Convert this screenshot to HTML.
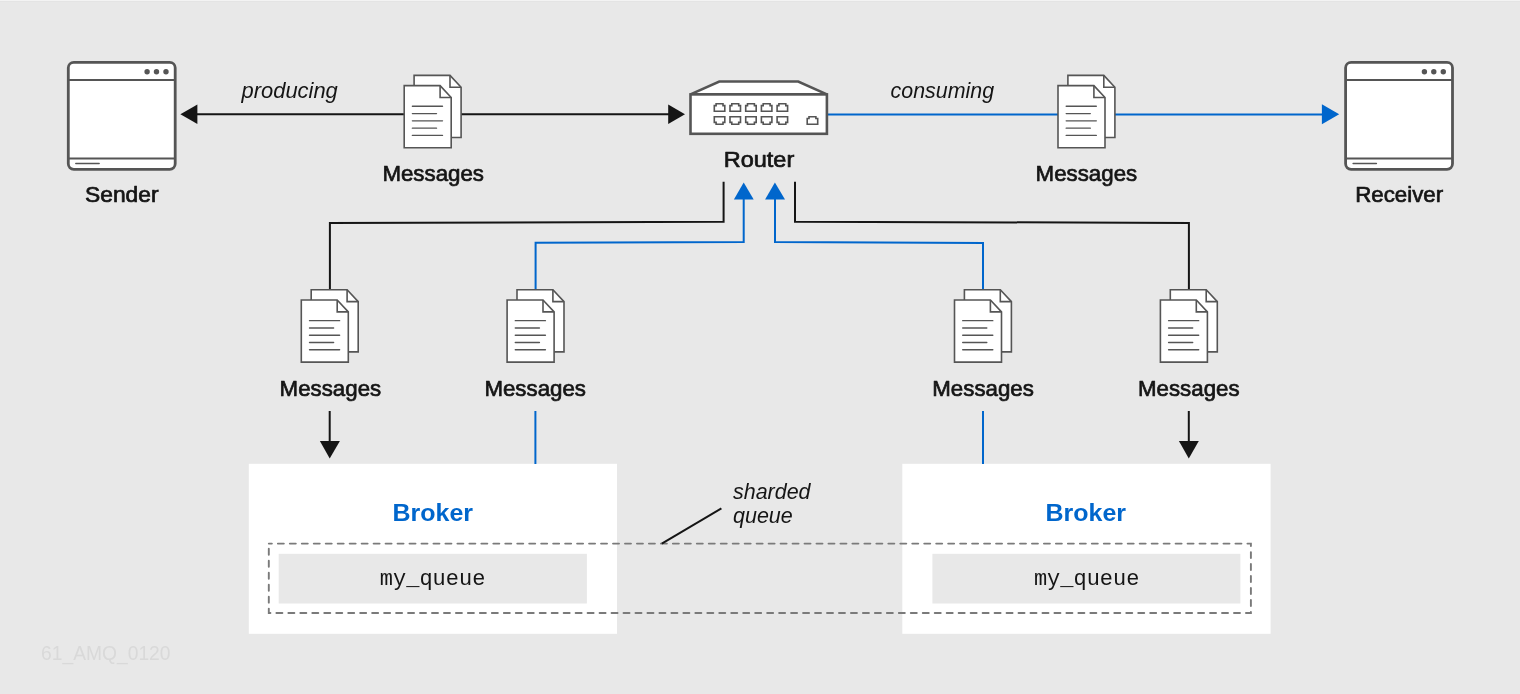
<!DOCTYPE html>
<html><head><meta charset="utf-8"><style>
html,body{margin:0;padding:0;background:#e8e8e8;width:1520px;height:694px;overflow:hidden}
svg{display:block;font-family:"Liberation Sans",sans-serif;will-change:transform}
</style></head><body>
<svg width="1520" height="694" viewBox="0 0 1520 694">
<rect x="0" y="0" width="1520" height="694" fill="#e8e8e8"/>
<rect x="0" y="0" width="1520" height="1" fill="#f3f3f3"/>
<rect x="0" y="1" width="1520" height="1" fill="#e4e4e4"/>
<rect x="248.8" y="463.8" width="368.2" height="170" fill="#fff"/>
<rect x="902.3" y="463.8" width="368.3" height="170" fill="#fff"/>
<rect x="278.7" y="553.8" width="308.2" height="49.7" fill="#e8e8e8"/>
<rect x="932.4" y="553.8" width="308.0" height="49.7" fill="#e8e8e8"/>
<rect x="268.8" y="543.6" width="982.1" height="69.4" fill="none" stroke="#7a7a7a" stroke-width="1.9" stroke-dasharray="6 5.97" stroke-dashoffset="2.92" stroke-linecap="round"/>
<line x1="661.8" y1="543.7" x2="721.4" y2="508.4" stroke="#151515" stroke-width="2"/>
<line x1="196" y1="114.3" x2="405" y2="114.3" stroke="#151515" stroke-width="2"/>
<line x1="460" y1="114.3" x2="670" y2="114.3" stroke="#151515" stroke-width="2"/>
<polygon points="180.4,114.3 197.4,104.6 197.4,124.0" fill="#151515"/>
<polygon points="685.0,114.3 668.2,104.5 668.2,124.0" fill="#151515"/>
<line x1="828" y1="114.4" x2="1323" y2="114.4" stroke="#0066cc" stroke-width="2"/>
<polygon points="1339.2,114.2 1321.9,104.2 1321.9,124.3" fill="#0066cc"/>
<polyline points="723.6,181.8 723.6,221.7 329.9,223.0 329.9,290" fill="none" stroke="#151515" stroke-width="2"/>
<polyline points="795.0,181.8 795.0,221.7 1188.9,222.9 1188.9,290" fill="none" stroke="#151515" stroke-width="2"/>
<polyline points="743.7,198 743.7,241.9 535.6,242.8 535.6,290" fill="none" stroke="#0066cc" stroke-width="2"/>
<polyline points="775.0,198 775.0,241.9 983.0,242.9 983.0,290" fill="none" stroke="#0066cc" stroke-width="2"/>
<polygon points="743.7,182.5 733.9,199.5 753.7,199.5" fill="#0066cc"/>
<polygon points="774.9,182.5 765.1,199.5 785.0,199.5" fill="#0066cc"/>
<line x1="329.7" y1="411" x2="329.7" y2="443" stroke="#151515" stroke-width="2"/>
<polygon points="329.7,458.4 319.9,441 339.9,441" fill="#151515"/>
<line x1="1188.8" y1="411" x2="1188.8" y2="443" stroke="#151515" stroke-width="2"/>
<polygon points="1188.8,458.4 1178.9,441 1198.8,441" fill="#151515"/>
<line x1="535.4" y1="411" x2="535.4" y2="464" stroke="#0066cc" stroke-width="2"/>
<line x1="983.0" y1="411" x2="983.0" y2="464" stroke="#0066cc" stroke-width="2"/>
<rect x="68.3" y="62.3" width="106.9" height="107" rx="5.5" fill="#fff" stroke="#555555" stroke-width="2.8"/>
<line x1="68.3" y1="80.0" x2="175.2" y2="80.0" stroke="#555555" stroke-width="2"/>
<line x1="68.3" y1="158.4" x2="175.2" y2="158.4" stroke="#555555" stroke-width="2"/>
<circle cx="147.1" cy="71.7" r="2.7" fill="#555555"/>
<circle cx="156.5" cy="71.7" r="2.7" fill="#555555"/>
<circle cx="166.0" cy="71.7" r="2.7" fill="#555555"/>
<line x1="75.8" y1="163.6" x2="99.1" y2="163.6" stroke="#555555" stroke-width="1.5" stroke-linecap="round"/>
<rect x="1345.6" y="62.3" width="106.9" height="107" rx="5.5" fill="#fff" stroke="#555555" stroke-width="2.8"/>
<line x1="1345.6" y1="80.0" x2="1452.5" y2="80.0" stroke="#555555" stroke-width="2"/>
<line x1="1345.6" y1="158.4" x2="1452.5" y2="158.4" stroke="#555555" stroke-width="2"/>
<circle cx="1424.4" cy="71.7" r="2.7" fill="#555555"/>
<circle cx="1433.8" cy="71.7" r="2.7" fill="#555555"/>
<circle cx="1443.3" cy="71.7" r="2.7" fill="#555555"/>
<line x1="1353.1" y1="163.6" x2="1376.4" y2="163.6" stroke="#555555" stroke-width="1.5" stroke-linecap="round"/>
<path d="M690.5,94.4 L719.3,81.5 H798.2 L826.9,94.4 Z" fill="#fff" stroke="#555555" stroke-width="2.6" stroke-linejoin="miter"/>
<rect x="690.5" y="94.4" width="136.4" height="39.4" fill="#fff" stroke="#555555" stroke-width="2.6"/>
<path d="M714.30,111.30 V105.60 H716.10 V103.80 H723.00 V105.60 H724.80 V111.30 Z" fill="none" stroke="#555555" stroke-width="1.6"/>
<path d="M714.30,116.70 H724.80 V122.40 H723.00 V124.20 H716.10 V122.40 H714.30 Z" fill="none" stroke="#555555" stroke-width="1.6"/>
<path d="M730.00,111.30 V105.60 H731.80 V103.80 H738.70 V105.60 H740.50 V111.30 Z" fill="none" stroke="#555555" stroke-width="1.6"/>
<path d="M730.00,116.70 H740.50 V122.40 H738.70 V124.20 H731.80 V122.40 H730.00 Z" fill="none" stroke="#555555" stroke-width="1.6"/>
<path d="M745.70,111.30 V105.60 H747.50 V103.80 H754.40 V105.60 H756.20 V111.30 Z" fill="none" stroke="#555555" stroke-width="1.6"/>
<path d="M745.70,116.70 H756.20 V122.40 H754.40 V124.20 H747.50 V122.40 H745.70 Z" fill="none" stroke="#555555" stroke-width="1.6"/>
<path d="M761.40,111.30 V105.60 H763.20 V103.80 H770.10 V105.60 H771.90 V111.30 Z" fill="none" stroke="#555555" stroke-width="1.6"/>
<path d="M761.40,116.70 H771.90 V122.40 H770.10 V124.20 H763.20 V122.40 H761.40 Z" fill="none" stroke="#555555" stroke-width="1.6"/>
<path d="M777.10,111.30 V105.60 H778.90 V103.80 H785.80 V105.60 H787.60 V111.30 Z" fill="none" stroke="#555555" stroke-width="1.6"/>
<path d="M777.10,116.70 H787.60 V122.40 H785.80 V124.20 H778.90 V122.40 H777.10 Z" fill="none" stroke="#555555" stroke-width="1.6"/>
<path d="M807.20,124.20 V118.50 H809.00 V116.70 H815.90 V118.50 H817.70 V124.20 Z" fill="none" stroke="#555555" stroke-width="1.6"/>
<path d="M414.10,75.40 H450.00 L461.10,87.25 V137.50 H414.10 Z" fill="#fff" stroke="#555555" stroke-width="1.6" stroke-linejoin="miter"/><path d="M450.00,75.40 V87.25 H461.10" fill="none" stroke="#555555" stroke-width="1.6"/>
<path d="M404.20,85.65 H440.10 L451.20,97.50 V147.75 H404.20 Z" fill="#fff" stroke="#555555" stroke-width="1.6" stroke-linejoin="miter"/><path d="M440.10,85.65 V97.50 H451.20" fill="none" stroke="#555555" stroke-width="1.6"/>
<line x1="412.40" y1="106.30" x2="442.50" y2="106.30" stroke="#555555" stroke-width="1.4" stroke-linecap="round"/>
<line x1="412.40" y1="113.58" x2="436.50" y2="113.58" stroke="#555555" stroke-width="1.4" stroke-linecap="round"/>
<line x1="412.40" y1="120.86" x2="442.50" y2="120.86" stroke="#555555" stroke-width="1.4" stroke-linecap="round"/>
<line x1="412.40" y1="128.14" x2="436.50" y2="128.14" stroke="#555555" stroke-width="1.4" stroke-linecap="round"/>
<line x1="412.40" y1="135.42" x2="442.50" y2="135.42" stroke="#555555" stroke-width="1.4" stroke-linecap="round"/>
<path d="M1067.90,75.40 H1103.80 L1114.90,87.25 V137.50 H1067.90 Z" fill="#fff" stroke="#555555" stroke-width="1.6" stroke-linejoin="miter"/><path d="M1103.80,75.40 V87.25 H1114.90" fill="none" stroke="#555555" stroke-width="1.6"/>
<path d="M1058.00,85.65 H1093.90 L1105.00,97.50 V147.75 H1058.00 Z" fill="#fff" stroke="#555555" stroke-width="1.6" stroke-linejoin="miter"/><path d="M1093.90,85.65 V97.50 H1105.00" fill="none" stroke="#555555" stroke-width="1.6"/>
<line x1="1066.20" y1="106.30" x2="1096.30" y2="106.30" stroke="#555555" stroke-width="1.4" stroke-linecap="round"/>
<line x1="1066.20" y1="113.58" x2="1090.30" y2="113.58" stroke="#555555" stroke-width="1.4" stroke-linecap="round"/>
<line x1="1066.20" y1="120.86" x2="1096.30" y2="120.86" stroke="#555555" stroke-width="1.4" stroke-linecap="round"/>
<line x1="1066.20" y1="128.14" x2="1090.30" y2="128.14" stroke="#555555" stroke-width="1.4" stroke-linecap="round"/>
<line x1="1066.20" y1="135.42" x2="1096.30" y2="135.42" stroke="#555555" stroke-width="1.4" stroke-linecap="round"/>
<path d="M311.20,289.75 H347.10 L358.20,301.60 V351.85 H311.20 Z" fill="#fff" stroke="#555555" stroke-width="1.6" stroke-linejoin="miter"/><path d="M347.10,289.75 V301.60 H358.20" fill="none" stroke="#555555" stroke-width="1.6"/>
<path d="M301.30,300.00 H337.20 L348.30,311.85 V362.10 H301.30 Z" fill="#fff" stroke="#555555" stroke-width="1.6" stroke-linejoin="miter"/><path d="M337.20,300.00 V311.85 H348.30" fill="none" stroke="#555555" stroke-width="1.6"/>
<line x1="309.50" y1="320.65" x2="339.60" y2="320.65" stroke="#555555" stroke-width="1.4" stroke-linecap="round"/>
<line x1="309.50" y1="327.93" x2="333.60" y2="327.93" stroke="#555555" stroke-width="1.4" stroke-linecap="round"/>
<line x1="309.50" y1="335.21" x2="339.60" y2="335.21" stroke="#555555" stroke-width="1.4" stroke-linecap="round"/>
<line x1="309.50" y1="342.49" x2="333.60" y2="342.49" stroke="#555555" stroke-width="1.4" stroke-linecap="round"/>
<line x1="309.50" y1="349.77" x2="339.60" y2="349.77" stroke="#555555" stroke-width="1.4" stroke-linecap="round"/>
<path d="M517.00,289.75 H552.90 L564.00,301.60 V351.85 H517.00 Z" fill="#fff" stroke="#555555" stroke-width="1.6" stroke-linejoin="miter"/><path d="M552.90,289.75 V301.60 H564.00" fill="none" stroke="#555555" stroke-width="1.6"/>
<path d="M507.10,300.00 H543.00 L554.10,311.85 V362.10 H507.10 Z" fill="#fff" stroke="#555555" stroke-width="1.6" stroke-linejoin="miter"/><path d="M543.00,300.00 V311.85 H554.10" fill="none" stroke="#555555" stroke-width="1.6"/>
<line x1="515.30" y1="320.65" x2="545.40" y2="320.65" stroke="#555555" stroke-width="1.4" stroke-linecap="round"/>
<line x1="515.30" y1="327.93" x2="539.40" y2="327.93" stroke="#555555" stroke-width="1.4" stroke-linecap="round"/>
<line x1="515.30" y1="335.21" x2="545.40" y2="335.21" stroke="#555555" stroke-width="1.4" stroke-linecap="round"/>
<line x1="515.30" y1="342.49" x2="539.40" y2="342.49" stroke="#555555" stroke-width="1.4" stroke-linecap="round"/>
<line x1="515.30" y1="349.77" x2="545.40" y2="349.77" stroke="#555555" stroke-width="1.4" stroke-linecap="round"/>
<path d="M964.40,289.75 H1000.30 L1011.40,301.60 V351.85 H964.40 Z" fill="#fff" stroke="#555555" stroke-width="1.6" stroke-linejoin="miter"/><path d="M1000.30,289.75 V301.60 H1011.40" fill="none" stroke="#555555" stroke-width="1.6"/>
<path d="M954.50,300.00 H990.40 L1001.50,311.85 V362.10 H954.50 Z" fill="#fff" stroke="#555555" stroke-width="1.6" stroke-linejoin="miter"/><path d="M990.40,300.00 V311.85 H1001.50" fill="none" stroke="#555555" stroke-width="1.6"/>
<line x1="962.70" y1="320.65" x2="992.80" y2="320.65" stroke="#555555" stroke-width="1.4" stroke-linecap="round"/>
<line x1="962.70" y1="327.93" x2="986.80" y2="327.93" stroke="#555555" stroke-width="1.4" stroke-linecap="round"/>
<line x1="962.70" y1="335.21" x2="992.80" y2="335.21" stroke="#555555" stroke-width="1.4" stroke-linecap="round"/>
<line x1="962.70" y1="342.49" x2="986.80" y2="342.49" stroke="#555555" stroke-width="1.4" stroke-linecap="round"/>
<line x1="962.70" y1="349.77" x2="992.80" y2="349.77" stroke="#555555" stroke-width="1.4" stroke-linecap="round"/>
<path d="M1170.30,289.75 H1206.20 L1217.30,301.60 V351.85 H1170.30 Z" fill="#fff" stroke="#555555" stroke-width="1.6" stroke-linejoin="miter"/><path d="M1206.20,289.75 V301.60 H1217.30" fill="none" stroke="#555555" stroke-width="1.6"/>
<path d="M1160.40,300.00 H1196.30 L1207.40,311.85 V362.10 H1160.40 Z" fill="#fff" stroke="#555555" stroke-width="1.6" stroke-linejoin="miter"/><path d="M1196.30,300.00 V311.85 H1207.40" fill="none" stroke="#555555" stroke-width="1.6"/>
<line x1="1168.60" y1="320.65" x2="1198.70" y2="320.65" stroke="#555555" stroke-width="1.4" stroke-linecap="round"/>
<line x1="1168.60" y1="327.93" x2="1192.70" y2="327.93" stroke="#555555" stroke-width="1.4" stroke-linecap="round"/>
<line x1="1168.60" y1="335.21" x2="1198.70" y2="335.21" stroke="#555555" stroke-width="1.4" stroke-linecap="round"/>
<line x1="1168.60" y1="342.49" x2="1192.70" y2="342.49" stroke="#555555" stroke-width="1.4" stroke-linecap="round"/>
<line x1="1168.60" y1="349.77" x2="1198.70" y2="349.77" stroke="#555555" stroke-width="1.4" stroke-linecap="round"/>
<text x="121.8" y="202.1" font-family="Liberation Sans" font-size="22" font-weight="normal" font-style="normal" fill="#151515" text-anchor="middle" textLength="73.5" lengthAdjust="spacingAndGlyphs" stroke="#151515" stroke-width="0.7" stroke-linejoin="round">Sender</text>
<text x="1399.2" y="202.0" font-family="Liberation Sans" font-size="22" font-weight="normal" font-style="normal" fill="#151515" text-anchor="middle" textLength="88" lengthAdjust="spacingAndGlyphs" stroke="#151515" stroke-width="0.7" stroke-linejoin="round">Receiver</text>
<text x="759.0" y="167.4" font-family="Liberation Sans" font-size="22" font-weight="normal" font-style="normal" fill="#151515" text-anchor="middle" textLength="70.5" lengthAdjust="spacingAndGlyphs" stroke="#151515" stroke-width="0.7" stroke-linejoin="round">Router</text>
<text x="433.2" y="181.2" font-family="Liberation Sans" font-size="22" font-weight="normal" font-style="normal" fill="#151515" text-anchor="middle" textLength="101.6" lengthAdjust="spacingAndGlyphs" stroke="#151515" stroke-width="0.7" stroke-linejoin="round">Messages</text>
<text x="1086.4" y="181.2" font-family="Liberation Sans" font-size="22" font-weight="normal" font-style="normal" fill="#151515" text-anchor="middle" textLength="101.6" lengthAdjust="spacingAndGlyphs" stroke="#151515" stroke-width="0.7" stroke-linejoin="round">Messages</text>
<text x="330.4" y="395.5" font-family="Liberation Sans" font-size="22" font-weight="normal" font-style="normal" fill="#151515" text-anchor="middle" textLength="101.6" lengthAdjust="spacingAndGlyphs" stroke="#151515" stroke-width="0.7" stroke-linejoin="round">Messages</text>
<text x="535.2" y="395.5" font-family="Liberation Sans" font-size="22" font-weight="normal" font-style="normal" fill="#151515" text-anchor="middle" textLength="101.6" lengthAdjust="spacingAndGlyphs" stroke="#151515" stroke-width="0.7" stroke-linejoin="round">Messages</text>
<text x="983.1" y="395.5" font-family="Liberation Sans" font-size="22" font-weight="normal" font-style="normal" fill="#151515" text-anchor="middle" textLength="101.6" lengthAdjust="spacingAndGlyphs" stroke="#151515" stroke-width="0.7" stroke-linejoin="round">Messages</text>
<text x="1188.8" y="395.5" font-family="Liberation Sans" font-size="22" font-weight="normal" font-style="normal" fill="#151515" text-anchor="middle" textLength="101.6" lengthAdjust="spacingAndGlyphs" stroke="#151515" stroke-width="0.7" stroke-linejoin="round">Messages</text>
<text x="241.5" y="97.9" font-family="Liberation Sans" font-size="22.5" font-weight="normal" font-style="italic" fill="#151515" text-anchor="start" textLength="96.3" lengthAdjust="spacingAndGlyphs">producing</text>
<text x="890.6" y="97.8" font-family="Liberation Sans" font-size="22.5" font-weight="normal" font-style="italic" fill="#151515" text-anchor="start" textLength="103.5" lengthAdjust="spacingAndGlyphs">consuming</text>
<text x="733.0" y="498.7" font-family="Liberation Sans" font-size="22.5" font-weight="normal" font-style="italic" fill="#151515" text-anchor="start" textLength="77.5" lengthAdjust="spacingAndGlyphs">sharded</text>
<text x="733.0" y="523.0" font-family="Liberation Sans" font-size="22.5" font-weight="normal" font-style="italic" fill="#151515" text-anchor="start" textLength="59.8" lengthAdjust="spacingAndGlyphs">queue</text>
<text x="432.8" y="521.4" font-family="Liberation Sans" font-size="24.5" font-weight="bold" font-style="normal" fill="#0066cc" text-anchor="middle" textLength="80.5" lengthAdjust="spacingAndGlyphs">Broker</text>
<text x="1085.8" y="521.4" font-family="Liberation Sans" font-size="24.5" font-weight="bold" font-style="normal" fill="#0066cc" text-anchor="middle" textLength="80.5" lengthAdjust="spacingAndGlyphs">Broker</text>
<text x="432.6" y="585.2" font-family="Liberation Mono" font-size="22" font-weight="normal" font-style="normal" fill="#151515" text-anchor="middle" textLength="105.5" lengthAdjust="spacingAndGlyphs">my_queue</text>
<text x="1086.7" y="585.2" font-family="Liberation Mono" font-size="22" font-weight="normal" font-style="normal" fill="#151515" text-anchor="middle" textLength="105.5" lengthAdjust="spacingAndGlyphs">my_queue</text>
<text x="41.1" y="660.3" font-family="Liberation Sans" font-size="20" font-weight="normal" font-style="normal" fill="#d9d9d9" text-anchor="start" textLength="129.4" lengthAdjust="spacingAndGlyphs">61_AMQ_0120</text>
</svg>
</body></html>
